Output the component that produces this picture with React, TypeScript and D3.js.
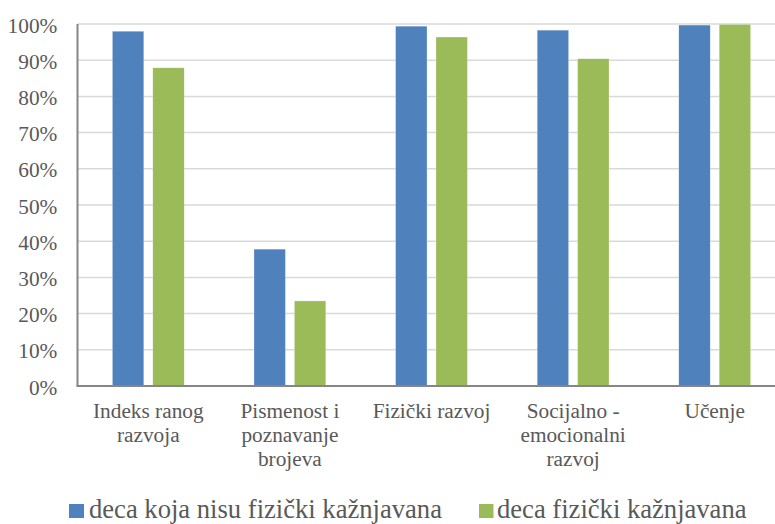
// Bar chart: early development index, children physically punished vs not
import * as d3 from "d3";
import React from "react";

const categories: string[][] = [
  ["Indeks ranog", "razvoja"],
  ["Pismenost i", "poznavanje", "brojeva"],
  ["Fizički razvoj"],
  ["Socijalno -", "emocionalni", "razvoj"],
  ["Učenje"],
];
const seriesNames = ["deca koja nisu fizički kažnjavana", "deca fizički kažnjavana"];
const notPunished = [0.98, 0.378, 0.994, 0.983, 0.997];
const punished = [0.879, 0.235, 0.964, 0.904, 0.999];
const yTicks = [0, 0.1, 0.2, 0.3, 0.4, 0.5, 0.6, 0.7, 0.8, 0.9, 1.0];
const colors = ["#4F81BD", "#9BBB59"];

const W = 775;
const H = 524;
const left = 77.5;
const right = 785.5;
const top = 24;
const bottom = 386;
const textColor = "#595959";
const FONT = "Liberation Serif";

export default function App() {
  const keys = categories.map((c) => c.join(" "));
  const x = d3.scaleBand<string>().domain(keys).range([left, right]).paddingInner(0).paddingOuter(0);
  const y = d3.scaleLinear().domain([0, 1]).range([bottom, top]);
  const bw = x.bandwidth();
  const barW = 31.4;
  const gap = 9;
  const off = (bw - (2 * barW + gap)) / 2;
  const data = [notPunished, punished];

  return (
    <svg width={W} height={H} style={{ display: "block", position: "absolute", left: 0, top: 0, background: "#fff" }}>
      {yTicks.map((t) => (
        <g key={t}>
          {t > 0 && (
            <line x1={left} x2={W} y1={y(t)} y2={y(t)} stroke="#D9D9D9" strokeWidth={1.5} />
          )}
          <text x={57.3} y={y(t)} dy="0.4em" textAnchor="end" fontSize={21.3} style={{ fontFamily: FONT }} fill={textColor}>
            {`${Math.round(t * 100)}%`}
          </text>
        </g>
      ))}
      {data.map((vals, si) =>
        vals.map((v, i) => (
          <rect
            key={`${si}-${i}`}
            x={(x(keys[i]) as number) + off + (si === 0 ? 0 : barW + gap)}
            y={y(v)}
            width={barW}
            height={y(0) - y(v)}
            fill={colors[si]}
            stroke="#fff"
            strokeOpacity={0.5}
            strokeWidth={0.5}
          />
        ))
      )}
      <line x1={left} x2={left} y1={top} y2={bottom} stroke="#868686" strokeWidth={2} />
      <line x1={left - 1} x2={W} y1={bottom} y2={bottom} stroke="#868686" strokeWidth={2} />
      {categories.map((lines, i) => (
        <text
          key={i}
          x={(x(keys[i]) as number) + bw / 2}
          y={418}
          textAnchor="middle"
          fontSize={21.3}
          style={{ fontFamily: FONT }}
          fill={textColor}
        >
          {lines.map((l, j) => (
            <tspan key={j} x={(x(keys[i]) as number) + bw / 2} dy={j === 0 ? 0 : 24}>
              {l}
            </tspan>
          ))}
        </text>
      ))}
      <rect x={69} y={504} width={15} height={14} fill={colors[0]} />
      <text x={89} y={518} fontSize={26.6} style={{ fontFamily: FONT }} fill={textColor}>
        {seriesNames[0]}
      </text>
      <rect x={479} y={504} width={14.5} height={14} fill={colors[1]} />
      <text x={497} y={518} fontSize={26.6} style={{ fontFamily: FONT }} fill={textColor}>
        {seriesNames[1]}
      </text>
    </svg>
  );
}
